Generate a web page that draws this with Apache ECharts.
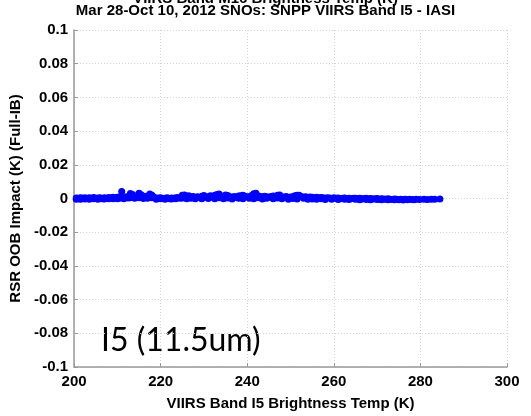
<!DOCTYPE html>
<html>
<head>
<meta charset="utf-8">
<script src="https://cdn.jsdelivr.net/npm/echarts@6/dist/echarts.min.js"></script>
<style>html,body{margin:0;padding:0;background:#fff}#c{width:531px;height:416px}</style>
</head>
<body>
<div id="c"></div>
<script>
// Title lines
var titleLines = ["VIIRS Band M16 Brightness Temp (K)", "Mar 28-Oct 10, 2012 SNOs: SNPP VIIRS Band I5 - IASI"];
var xAxisTitle = "VIIRS Band I5 Brightness Temp (K)";
var yAxisTitle = "RSR OOB Impact (K) (Full-IB)";
var bandNote = "I5 (11.5um)";
var xTicks = [200, 220, 240, 260, 280, 300];
var yTicks = [-0.1, -0.08, -0.06, -0.04, -0.02, 0, 0.02, 0.04, 0.06, 0.08, 0.1];

// SNO points [brightness temp K, OOB impact K]
var segA = [[200.5,0.0003],[200.5,-0.0004],[201,0.0001],[201,-0.0002],[201.5,0.0004],[201.5,-0.0005],[202,0.0002],[202.5,-0.0003],[202.5,0.0005],[203,0.0000],[203.5,0.0004],[203.5,-0.0004],[204,0.0002],[204.5,-0.0002],[204.5,0.0006],[205,0.0001],[205.5,0.0003],[205.5,-0.0005],[206,0.0005],[206.5,-0.0001],[207,0.0004],[207,-0.0003],[207.5,0.0002],[208,0.0006],[208,-0.0002],[208.5,0.0003],[209,-0.0001],[209,0.0007],[209.5,0.0004],[210,0.0008],[210,-0.0001]];
var segB = [[210.5,0.0009],[210.5,0.0002],[211,0.0041],[211,0.0006],[211.5,0.0010],[211.5,-0.0001],[212,0.0007],[212.5,0.0012],[212.5,0.0003],[213,0.0030],[213,0.0005],[213.5,0.0024],[214,0.0009],[214,0.0001],[214.5,0.0011],[215,0.0031],[215,0.0004],[215.5,0.0022],[216,0.0008],[216,0.0000],[216.5,0.0013],[217,0.0006],[217,0.0002],[217.5,0.0026],[218,0.0019],[218,0.0004],[218.5,0.0007]];
var segC = [[219,0.0001],[219,-0.0004],[219.5,0.0003],[220,-0.0002],[220,0.0004],[220.5,0.0000],[221,0.0002],[221,-0.0005],[221.5,0.0004],[222,-0.0001],[222.5,0.0003],[222.5,-0.0003],[223,0.0001],[223.5,0.0005],[223.5,-0.0002],[224,0.0006],[224.5,0.0002]];
var segD = [[225,0.0019],[225,0.0003],[225.5,0.0021],[226,0.0014],[226,-0.0001],[226.5,0.0017],[227,0.0009],[227,0.0002],[227.5,0.0012],[228,0.0006],[228,-0.0002],[228.5,0.0010],[229,0.0004],[229.5,0.0013],[229.5,-0.0001],[230,0.0018],[230.5,0.0008],[231,0.0011],[231,0.0000],[231.5,0.0016],[232,0.0007],[232.5,0.0019],[232.5,-0.0002],[233,0.0024],[233.5,0.0026],[233.5,0.0005],[234,0.0015],[234.5,0.0009],[234.5,-0.0001],[235,0.0021],[235.5,0.0018],[235.5,0.0003],[236,0.0010],[236.5,0.0007],[236.5,-0.0003],[237,0.0012],[237.5,0.0006],[238,0.0015],[238,0.0001],[238.5,0.0017],[239,0.0020],[239,-0.0002],[239.5,0.0013],[240,0.0009],[240.5,0.0011],[240.5,0.0002],[241,0.0018],[241.5,0.0028],[241.5,-0.0001],[242,0.0031],[242.5,0.0016],[242.5,0.0004],[243,0.0012],[243.5,0.0009],[243.5,-0.0003],[244,0.0014],[244.5,0.0010],[244.5,0.0001],[245,0.0007],[245.5,0.0012],[246,0.0015],[246,-0.0002],[246.5,0.0011],[247,0.0019],[247,0.0003],[247.5,0.0021],[248,0.0010],[248,-0.0001],[248.5,0.0008],[249,0.0012],[249.5,0.0006],[249.5,-0.0004],[250,0.0009],[250.5,0.0011],[250.5,0.0000],[251,0.0016],[251.5,0.0019],[251.5,-0.0003],[252,0.0020],[252.5,0.0012],[253,0.0008],[253,0.0001],[253.5,0.0010],[254,0.0006],[254,-0.0004],[254.5,0.0009]];
var segE = [[255,0.0007],[255,-0.0003],[255.5,0.0005],[256,0.0008],[256,-0.0005],[256.5,0.0003],[257,0.0006],[257,-0.0002],[257.5,0.0004],[258,0.0002],[258,-0.0006],[258.5,0.0005],[259,0.0003],[259.5,0.0000],[259.5,-0.0005],[260,0.0004],[260.5,0.0001],[261,0.0003],[261,-0.0006],[261.5,-0.0001],[262,0.0002],[262.5,-0.0004],[262.5,0.0003],[263,0.0000],[263.5,0.0002],[263.5,-0.0006],[264,-0.0002],[264.5,0.0001],[265,-0.0005],[265,0.0002],[265.5,-0.0001],[266,0.0001],[266,-0.0007],[266.5,-0.0003],[267,0.0000],[267.5,-0.0006],[267.5,0.0001],[268,-0.0002],[268.5,0.0000],[268.5,-0.0007],[269,-0.0003],[269.5,-0.0001],[270,-0.0006],[270,0.0000],[270.5,-0.0004],[271,-0.0001],[271,-0.0008],[271.5,-0.0003],[272,-0.0005],[272.5,-0.0002],[272.5,-0.0008],[273,-0.0004],[273.5,-0.0006],[274,-0.0003],[274,-0.0008],[274.5,-0.0005],[275,-0.0007],[275.5,-0.0004],[276,-0.0006],[276,-0.0009],[276.5,-0.0005],[277,-0.0007],[277.5,-0.0004],[278,-0.0006],[278.5,-0.0008],[279,-0.0005]];
var segTail = [[279.8,-0.0006],[280.8,-0.0004],[281.6,-0.0006],[282.5,-0.0005],[283.3,-0.0004],[284.5,-0.0003]];

var points = [].concat(segA, segB, segC, segD, segE, segTail);

var chart = echarts.init(document.getElementById('c'), null, {renderer: 'canvas'});
var labelFont = {color: '#000', fontFamily: 'Liberation Sans, Arial, sans-serif', fontWeight: 'bold', fontSize: 15};
var gridLine = {show: true, lineStyle: {color: '#d0d0d0', type: [1, 2], width: 1}};
chart.setOption({
  animation: false,
  backgroundColor: '#fff',
  grid: {left: 72, right: 24, top: 30, bottom: 43, containLabel: false},
  graphic: [
    {type: 'text', left: 'center', top: -9, style: {text: titleLines[0], fill: '#000', font: 'bold 15px "Liberation Sans", Arial, sans-serif'}},
    {type: 'text', left: 'center', top: 3, style: {text: titleLines[1], fill: '#000', font: 'bold 15px "Liberation Sans", Arial, sans-serif'}},
    {type: 'text', left: 101, top: 325, style: {text: bandNote, fill: '#000', font: '32px Lato, "Open Sans", sans-serif'}}
  ],
  xAxis: {
    type: 'value', min: 200, max: 300, interval: 20,
    name: xAxisTitle, nameLocation: 'middle', nameGap: 29,
    nameTextStyle: labelFont,
    axisLine: {show: true, onZero: false, lineStyle: {color: '#999', width: 1.5}},
    axisTick: {show: true, inside: true, length: 4, lineStyle: {color: '#999'}},
    axisLabel: Object.assign({margin: 7, formatter: function(v){ return xTicks.indexOf(v) >= 0 ? String(v) : ''; }}, labelFont),
    splitLine: gridLine
  },
  yAxis: {
    type: 'value', min: -0.1, max: 0.1, interval: 0.02,
    name: yAxisTitle, nameLocation: 'middle', nameGap: 43,
    nameTextStyle: labelFont,
    axisLine: {show: true, onZero: false, lineStyle: {color: '#999', width: 1.5}},
    axisTick: {show: true, inside: true, length: 4, lineStyle: {color: '#999'}},
    axisLabel: Object.assign({margin: 6, formatter: function(v){
      var r = Math.round(v * 100) / 100;
      for (var i = 0; i < yTicks.length; i++) { if (Math.abs(yTicks[i] - r) < 1e-9) return String(yTicks[i]); }
      return '';
    }}, labelFont),
    splitLine: gridLine
  },
  series: [{
    type: 'scatter',
    data: points,
    symbol: 'circle',
    symbolSize: 7,
    itemStyle: {color: '#0000ff', opacity: 1},
    silent: true
  }]
});
</script>
</body>
</html>
